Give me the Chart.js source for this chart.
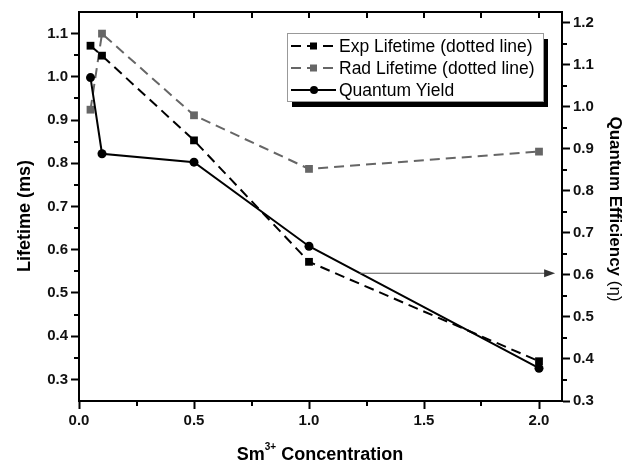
<!DOCTYPE html>
<html>
<head>
<meta charset="utf-8">
<script src="https://cdn.jsdelivr.net/npm/chart.js@4/dist/chart.umd.min.js"></script>
<style>
  html, body { margin: 0; padding: 0; background: #fff; }
  canvas { display: block; }
</style>
</head>
<body>
<canvas id="lifetime-chart" width="632" height="468"></canvas>
<script>
// ─── DATA ─────────────────────────────────────────────────
const concentration = [0.05, 0.1, 0.5, 1.0, 2.0];
const expLifetime   = [1.072, 1.049, 0.853, 0.572, 0.342];
const radLifetime   = [0.924, 1.100, 0.911, 0.787, 0.827];
const quantumYield  = [1.069, 0.888, 0.868, 0.668, 0.378];

const xTicks          = [0.0, 0.5, 1.0, 1.5, 2.0];
const lifetimeTicks   = [0.3, 0.4, 0.5, 0.6, 0.7, 0.8, 0.9, 1.0, 1.1];
const efficiencyTicks = [0.3, 0.4, 0.5, 0.6, 0.7, 0.8, 0.9, 1.0, 1.1, 1.2];

// arrow pointing at the efficiency axis (x, efficiency)
const arrowStart = [1.22, 0.605];
const arrowEnd   = [2.07, 0.605];

const FONT = '"Liberation Sans", Arial, sans-serif';
const GREY = '#666666';

const pts = ys => concentration.map((x, i) => ({ x, y: ys[i] }));
const minorOf = (majors, lo, hi) => {
    const step = majors[1] - majors[0];
    const out = [];
    [majors[0] - step].concat(majors).forEach(v => {
        const m = +(v + step / 2).toFixed(4);
        if (m > lo + 1e-6 && m < hi - 1e-6) out.push(m);
    });
    return out;
};

// ─── DECORATION PLUGIN ────────────────────────────────────
const decor = {
    id: 'decor',
    afterDraw(chart) {
        const { ctx, chartArea: a, scales } = chart;
        const sx = scales.x, sy = scales.y, sy1 = scales.y1;
        ctx.save();
        ctx.strokeStyle = '#000';
        ctx.lineWidth = 2;

        // minor ticks
        ctx.beginPath();
        minorOf(lifetimeTicks, sy.min, sy.max).forEach(v => {
            const y = Math.round(sy.getPixelForValue(v));
            ctx.moveTo(a.left - 5, y); ctx.lineTo(a.left, y);
        });
        minorOf(efficiencyTicks, sy1.min, sy1.max).forEach(v => {
            const y = Math.round(sy1.getPixelForValue(v));
            ctx.moveTo(a.right, y); ctx.lineTo(a.right + 5, y);
        });
        const xMinor = minorOf(xTicks, sx.min, sx.max);
        xMinor.forEach(v => {
            const x = Math.round(sx.getPixelForValue(v));
            ctx.moveTo(x, a.bottom); ctx.lineTo(x, a.bottom + 5);
        });
        // mirrored ticks on the top edge, pointing inward
        xTicks.concat(xMinor).forEach(v => {
            const x = Math.round(sx.getPixelForValue(v));
            ctx.moveTo(x, a.top); ctx.lineTo(x, a.top + 6);
        });
        ctx.stroke();

        // frame
        ctx.strokeRect(a.left, a.top, a.right - a.left, a.bottom - a.top);

        // arrow
        const ax0 = sx.getPixelForValue(arrowStart[0]), ay0 = sy1.getPixelForValue(arrowStart[1]);
        const ax1 = sx.getPixelForValue(arrowEnd[0]),   ay1 = sy1.getPixelForValue(arrowEnd[1]);
        ctx.strokeStyle = '#555'; ctx.fillStyle = '#333'; ctx.lineWidth = 1;
        ctx.beginPath(); ctx.moveTo(ax0, ay0 + 0.5); ctx.lineTo(ax1 - 8, ay1 + 0.5); ctx.stroke();
        ctx.beginPath();
        ctx.moveTo(ax1, ay1 + 0.5); ctx.lineTo(ax1 - 11, ay1 - 3.5); ctx.lineTo(ax1 - 11, ay1 + 4.5);
        ctx.closePath(); ctx.fill();

        // legend
        const lg = { x: 287, y: 33, w: 256, h: 68 };
        ctx.fillStyle = '#000';
        ctx.fillRect(lg.x + 5, lg.y + 6, lg.w, lg.h);
        ctx.fillStyle = '#fff';
        ctx.fillRect(lg.x, lg.y, lg.w, lg.h);
        ctx.strokeStyle = '#999'; ctx.lineWidth = 1;
        ctx.strokeRect(lg.x + 0.5, lg.y + 0.5, lg.w, lg.h);
        ctx.font = '17.5px ' + FONT;
        ctx.textBaseline = 'middle';
        ctx.textAlign = 'left';
        chart.data.datasets.forEach((ds, i) => {
            const cy = lg.y + 13 + i * 22;
            ctx.strokeStyle = ds.borderColor;
            ctx.lineWidth = 2;
            ctx.setLineDash(ds.borderDash || []);
            ctx.beginPath(); ctx.moveTo(291, cy); ctx.lineTo(336, cy); ctx.stroke();
            ctx.setLineDash([]);
            ctx.fillStyle = ds.backgroundColor;
            if (ds.pointStyle === 'rect') {
                ctx.fillRect(310, cy - 3.5, 7, 7);
            } else {
                ctx.beginPath(); ctx.arc(314, cy, 4, 0, Math.PI * 2); ctx.fill();
            }
            ctx.fillStyle = '#000';
            ctx.fillText(ds.label, 339, cy + 1);
        });

        // axis titles
        ctx.fillStyle = '#000';
        ctx.textBaseline = 'middle';
        ctx.textAlign = 'center';
        ctx.font = 'bold 18px ' + FONT;
        ctx.save();
        ctx.translate(25, 216); ctx.rotate(-Math.PI / 2);
        ctx.fillText('Lifetime (ms)', 0, 0);
        ctx.restore();

        ctx.save();
        ctx.translate(615, 209); ctx.rotate(Math.PI / 2);
        ctx.textAlign = 'left';
        ctx.font = 'bold 17px ' + FONT;
        const t1 = 'Quantum Efficiency';
        const w1 = ctx.measureText(t1).width;
        ctx.font = '17px ' + FONT;
        const t2 = ' (\u03B7)';
        const w2 = ctx.measureText(t2).width;
        const s0 = -(w1 + w2) / 2;
        ctx.font = 'bold 17px ' + FONT;
        ctx.fillText(t1, s0, 0);
        ctx.font = '17px ' + FONT;
        ctx.fillText(t2, s0 + w1, 0);
        ctx.restore();

        // x title with superscript
        ctx.textAlign = 'left';
        ctx.textBaseline = 'alphabetic';
        ctx.font = 'bold 18px ' + FONT;
        const p1 = 'Sm', p3 = ' Concentration';
        const wp1 = ctx.measureText(p1).width, wp3 = ctx.measureText(p3).width;
        ctx.font = 'bold 10px ' + FONT;
        const p2 = '3+';
        const wp2 = ctx.measureText(p2).width;
        let tx = 320 - (wp1 + wp2 + wp3) / 2;
        ctx.font = 'bold 18px ' + FONT;
        ctx.fillText(p1, tx, 460); tx += wp1;
        ctx.font = 'bold 10px ' + FONT;
        ctx.fillText(p2, tx, 450); tx += wp2;
        ctx.font = 'bold 18px ' + FONT;
        ctx.fillText(p3, tx, 460);

        ctx.restore();
    }
};

// ─── CHART ────────────────────────────────────────────────
const tickFont = { family: FONT, size: 15, weight: 'bold' };
const axisBase = (ticksArr, extra) => Object.assign({
    type: 'linear',
    afterBuildTicks: s => { s.ticks = ticksArr.map(v => ({ value: v })); },
    ticks: {
        font: tickFont,
        color: '#111',
        autoSkip: false,
        maxRotation: 0,
        callback: v => Number(v).toFixed(1)
    },
    grid: { drawOnChartArea: false, tickLength: 8, tickWidth: 2, tickColor: '#000' },
    border: { color: '#000', width: 2 }
}, extra);

new Chart(document.getElementById('lifetime-chart'), {
    type: 'line',
    data: {
        datasets: [{
            label: 'Exp Lifetime (dotted line)',
            data: pts(expLifetime),
            yAxisID: 'y',
            borderColor: '#000',
            backgroundColor: '#000',
            borderWidth: 2,
            borderDash: [10, 6],
            pointStyle: 'rect',
            pointRadius: 5.5,
            pointBorderWidth: 0,
            order: 1
        }, {
            label: 'Rad Lifetime (dotted line)',
            data: pts(radLifetime),
            yAxisID: 'y',
            borderColor: GREY,
            backgroundColor: GREY,
            borderWidth: 2,
            borderDash: [10, 6],
            pointStyle: 'rect',
            pointRadius: 5.5,
            pointBorderWidth: 0,
            order: 2
        }, {
            label: 'Quantum Yield',
            data: pts(quantumYield),
            yAxisID: 'y1',
            borderColor: '#000',
            backgroundColor: '#000',
            borderWidth: 2,
            pointStyle: 'circle',
            pointRadius: 4.5,
            pointBorderWidth: 0,
            order: 0
        }]
    },
    options: {
        responsive: false,
        animation: false,
        layout: { padding: { top: 10, left: 0, right: 0, bottom: 0 } },
        plugins: {
            legend: { display: false },
            tooltip: { enabled: false }
        },
        scales: {
            x: axisBase(xTicks, {
                position: 'bottom', min: 0, max: 2.1,
                afterFit: s => { s.height = 67; }
            }),
            y: axisBase(lifetimeTicks, {
                position: 'left', min: 0.25, max: 1.15,
                afterFit: s => { s.width = 79; }
            }),
            y1: axisBase(efficiencyTicks, {
                position: 'right', min: 0.3, max: 1.225,
                afterFit: s => { s.width = 70; }
            })
        }
    },
    plugins: [decor]
});
</script>
</body>
</html>
